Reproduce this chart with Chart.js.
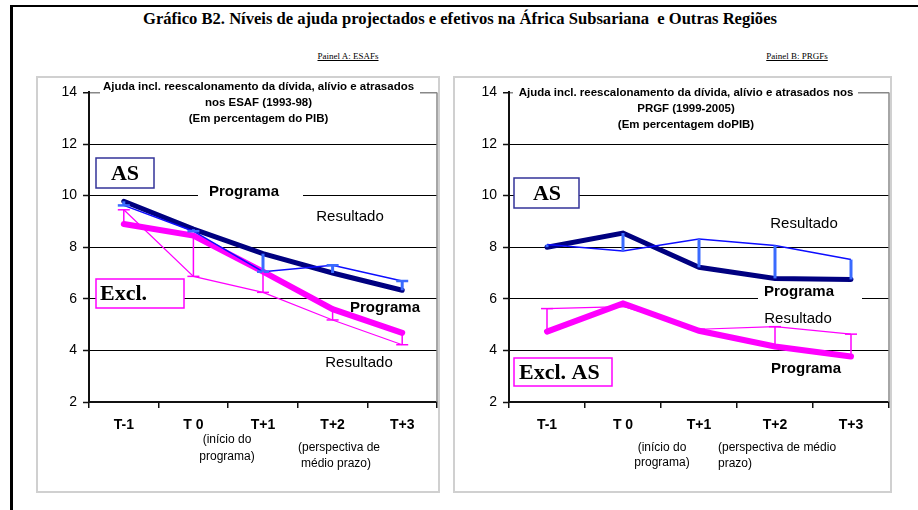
<!DOCTYPE html>
<html><head><meta charset="utf-8">
<script src="https://cdn.jsdelivr.net/npm/chart.js@4/dist/chart.umd.min.js"></script>
<style>
body{margin:0;background:#fff;width:918px;height:510px;overflow:hidden;position:relative;}
#frameTop{position:absolute;left:10px;top:5px;width:908px;height:2px;background:#000}
#frameLeft{position:absolute;left:10px;top:5px;width:3px;height:505px;background:#000}
#title{position:absolute;left:460px;top:10px;font:bold 16px "Liberation Serif",serif;color:#000;white-space:pre;transform-origin:0 0}
.plbl{position:absolute;top:51px;font:9px "Liberation Serif",serif;text-decoration:underline;transform:translateX(-50%);white-space:nowrap;color:#000}
.box{position:absolute;border:2px solid #d0d0d0;box-sizing:border-box}
canvas{position:absolute}
</style></head>
<body>
<div id="frameTop"></div><div id="frameLeft"></div>
<div id="title">Gráfico B2. Níveis de ajuda projectados e efetivos na África Subsariana  e Outras Regiões</div>
<div class="plbl" style="left:348px">Painel A: ESAFs</div>
<div class="plbl" style="left:797px">Painel B: PRGFs</div>
<div class="box" style="left:36px;top:76px;width:404px;height:417px"></div>
<div class="box" style="left:453px;top:76px;width:439px;height:417px"></div>
<canvas id="cA" style="left:38px;top:78px" width="400" height="412"></canvas>
<canvas id="cB" style="left:455px;top:78px" width="435" height="412"></canvas>
<script>
// ---- data ----
const categories = ['T-1', 'T 0', 'T+1', 'T+2', 'T+3'];
const yTicks = [2, 4, 6, 8, 10, 12, 14];
// Painel A: ESAFs (1993-98)
const asProgramaA   = [9.78, 8.70, 7.75, 7.00, 6.33];
const asResultadoA  = [9.62, 8.62, 7.05, 7.30, 6.69];
const exProgramaA   = [8.90, 8.45, 7.05, 5.60, 4.68];
const exResultadoA  = [9.45, 6.87, 6.25, 5.18, 4.22];
// Painel B: PRGFs (1999-2005)
const asProgramaB   = [8.00, 8.55, 7.22, 6.79, 6.75];
const asResultadoB  = [8.10, 7.85, 8.32, 8.07, 7.52];
const exProgramaB   = [4.73, 5.82, 4.76, 4.15, 3.76];
const exResultadoB  = [5.62, 5.70, 4.82, 4.92, 4.63];

// fit main title to its original width (143..777)
(function () {
  const t = document.getElementById('title');
  const w = t.getBoundingClientRect().width;
  const target = 634;
  t.style.left = (460 - target / 2) + 'px';
  t.style.transform = 'scaleX(' + (target / w).toFixed(4) + ')';
})();

const NAVY = '#000080', BLUE = '#0d0dff', LBLUE = '#3a6bff', MAG = '#ff00ff';
const SANS = '"Liberation Sans", Arial, sans-serif';
const SERIF = '"Liberation Serif", "Times New Roman", serif';

const barsPlugin = {
  id: 'bars',
  afterDatasetsDraw(chart) {
    const o = chart.options.plugins.bars;
    const xs = chart.scales.x, ys = chart.scales.y, ctx = chart.ctx;
    o.pairs.forEach(p => {
      ctx.save();
      ctx.strokeStyle = p.color;
      p.prog.forEach((v, i) => {
        const x = xs.getPixelForValue(i);
        const y1 = ys.getPixelForValue(v), y2 = ys.getPixelForValue(p.res[i]);
        ctx.lineWidth = p.width;
        ctx.beginPath(); ctx.moveTo(x, y1); ctx.lineTo(x, y2); ctx.stroke();
        if (p.cap) {
          ctx.lineWidth = p.capWidth;
          ctx.beginPath(); ctx.moveTo(x - p.cap, y2); ctx.lineTo(x + p.cap, y2); ctx.stroke();
        }
      });
      ctx.restore();
    });
  }
};

const annPlugin = {
  id: 'ann',
  afterDraw(chart) {
    const o = chart.options.plugins.ann;
    const ctx = chart.ctx, ca = chart.chartArea;
    const ox = o.offX, oy = o.offY;
    ctx.save();
    // plot border right (gray)
    ctx.strokeStyle = '#888'; ctx.lineWidth = 1.5;
    ctx.beginPath(); ctx.moveTo(ca.right, ca.top); ctx.lineTo(ca.right, ca.bottom); ctx.stroke();
    // inner title
    const t = o.title;
    ctx.fillStyle = '#fff';
    ctx.fillRect(t.x1 - ox, t.y0 - oy, t.x2 - t.x1, 10);
    ctx.font = 'bold 10px ' + SANS;
    const w10 = ctx.measureText(t.lines[0]).width;
    const fs = 10 * t.w / w10;
    ctx.font = 'bold ' + fs.toFixed(2) + 'px ' + SANS;
    ctx.fillStyle = '#000'; ctx.textAlign = 'center'; ctx.textBaseline = 'middle';
    t.lines.forEach((l, i) => ctx.fillText(l, t.cx - ox, t.ys[i] - oy));
    // boxes
    o.boxes.forEach(b => {
      ctx.strokeStyle = b.color; ctx.lineWidth = 1.5;
      ctx.fillStyle = '#fff';
      ctx.fillRect(b.x1 - ox, b.y1 - oy, b.x2 - b.x1, b.y2 - b.y1);
      ctx.strokeRect(b.x1 - ox, b.y1 - oy, b.x2 - b.x1, b.y2 - b.y1);
      ctx.fillStyle = '#000';
      ctx.font = 'bold 22px ' + SERIF;
      ctx.textAlign = b.align; ctx.textBaseline = 'middle';
      ctx.fillText(b.text, b.tx - ox, (b.y1 + b.y2) / 2 + 1 - oy);
    });
    // labels
    o.labels.forEach(l => {
      ctx.font = (l.bold ? 'bold ' : '') + '15px ' + SANS;
      ctx.textAlign = 'center'; ctx.textBaseline = 'middle';
      if (l.bg) {
        ctx.fillStyle = '#fff';
        ctx.fillRect(l.bg[0] - ox, l.bg[1] - oy, l.bg[2] - l.bg[0], l.bg[3] - l.bg[1]);
      }
      ctx.fillStyle = '#000';
      ctx.fillText(l.text, l.x - ox, l.y - oy);
    });
    // sub labels under x axis
    ctx.font = '12px ' + SANS; ctx.fillStyle = '#000'; ctx.textBaseline = 'middle';
    o.subs.forEach(s => {
      ctx.textAlign = s.align;
      ctx.fillText(s.text, s.x - ox, s.y - oy);
    });
    ctx.restore();
  }
};

function makeChart(id, offX, offY, yW, data4, bars, ann) {
  const [ap, ar, ep, er] = data4;
  return new Chart(document.getElementById(id), {
    type: 'line',
    data: {
      labels: categories,
      datasets: [
        { label: 'AS Programa', data: ap, borderColor: NAVY, borderWidth: 5, pointRadius: 0, tension: 0, borderCapStyle: 'round', order: 3 },
        { label: 'AS Resultado', data: ar, borderColor: BLUE, borderWidth: 1.5, pointRadius: 0, tension: 0, order: 1 },
        { label: 'Excl. Programa', data: ep, borderColor: MAG, borderWidth: 6, pointRadius: 0, tension: 0, borderCapStyle: 'round', order: 4 },
        { label: 'Excl. Resultado', data: er, borderColor: MAG, borderWidth: 1.2, pointRadius: 0, tension: 0, order: 2 }
      ]
    },
    options: {
      responsive: false, animation: false, events: [],
      layout: { padding: { top: 11, right: 1, left: 0, bottom: 0 } },
      scales: {
        x: {
          type: 'category', offset: true,
          afterFit: s => { s.height = 88; },
          border: { display: true, color: '#111', width: 2 },
          grid: { offset: true, drawOnChartArea: false, drawTicks: true, tickLength: 6, color: '#111', lineWidth: 1.5 },
          ticks: { font: { family: SANS, size: 14, weight: 'bold' }, color: '#000', padding: 9, maxRotation: 0 }
        },
        y: {
          min: 2, max: 14,
          afterFit: s => { s.width = yW; },
          afterBuildTicks: s => { s.ticks = yTicks.map(v => ({ value: v })); },
          border: { display: true, color: '#111', width: 2 },
          grid: { color: c => (c.tick && c.tick.value === 14 ? '#888' : '#000'), lineWidth: c => (c.tick && c.tick.value === 14 ? 1.5 : 1), tickLength: 6, tickColor: '#111', tickWidth: 1.5 },
          ticks: { font: { family: SANS, size: 14 }, color: '#000', padding: 6 }
        }
      },
      plugins: {
        legend: { display: false }, tooltip: { enabled: false }, title: { display: false },
        bars: { pairs: bars },
        ann: Object.assign({ offX: offX, offY: offY }, ann)
      }
    },
    plugins: [barsPlugin, annPlugin]
  });
}

makeChart('cA', 38, 78, 51,
  [asProgramaA, asResultadoA, exProgramaA, exResultadoA],
  [
    { prog: asProgramaA, res: asResultadoA, color: LBLUE, width: 3, cap: 6, capWidth: 2.5 },
    { prog: exProgramaA, res: exResultadoA, color: MAG, width: 1.5, cap: 6, capWidth: 1.5 }
  ],
  {
    title: { lines: ['Ajuda incl. reescalonamento da dívida, alívio e atrasados', 'nos ESAF (1993-98)', '(Em percentagem do PIB)'],
             cx: 258.5, ys: [87, 103, 118.5], w: 311, x1: 100, x2: 420, y0: 84 },
    boxes: [
      { text: 'AS', x1: 96, y1: 158, x2: 154, y2: 188, color: '#333399', tx: 125, align: 'center' },
      { text: 'Excl.', x1: 96, y1: 279, x2: 184, y2: 308, color: MAG, tx: 100, align: 'left' }
    ],
    labels: [
      { text: 'Programa', bold: true, x: 244, y: 192, bg: [198, 184, 303, 199] },
      { text: 'Resultado', bold: false, x: 350, y: 217 },
      { text: 'Programa', bold: true, x: 385, y: 308 },
      { text: 'Resultado', bold: false, x: 359, y: 363 }
    ],
    subs: [
      { text: '(início do', x: 227, y: 440, align: 'center' },
      { text: 'programa)', x: 227, y: 457, align: 'center' },
      { text: '(perspectiva de', x: 339, y: 448, align: 'center' },
      { text: 'médio prazo)', x: 336, y: 464, align: 'center' }
    ]
  });

makeChart('cB', 455, 78, 54,
  [asProgramaB, asResultadoB, exProgramaB, exResultadoB],
  [
    { prog: asProgramaB, res: asResultadoB, color: LBLUE, width: 3, cap: 0 },
    { prog: exProgramaB, res: exResultadoB, color: MAG, width: 1.5, cap: 6, capWidth: 1.5 }
  ],
  {
    title: { lines: ['Ajuda incl. reescalonamento da dívida, alívio e atrasados nos', 'PRGF (1999-2005)', '(Em percentagem doPIB)'],
             cx: 686, ys: [93, 109, 125], w: 335, x1: 513, x2: 858, y0: 84 },
    boxes: [
      { text: 'AS', x1: 514, y1: 178, x2: 579, y2: 208, color: '#333399', tx: 547, align: 'center' },
      { text: 'Excl. AS', x1: 514, y1: 358, x2: 612, y2: 386, color: MAG, tx: 519, align: 'left' }
    ],
    labels: [
      { text: 'Resultado', bold: false, x: 804, y: 224 },
      { text: 'Programa', bold: true, x: 799, y: 292, bg: [758, 284, 862, 301] },
      { text: 'Resultado', bold: false, x: 798, y: 319 },
      { text: 'Programa', bold: true, x: 806, y: 369 }
    ],
    subs: [
      { text: '(início do', x: 662, y: 448, align: 'center' },
      { text: 'programa)', x: 662, y: 463, align: 'center' },
      { text: '(perspectiva de médio', x: 718, y: 448, align: 'left' },
      { text: 'prazo)', x: 718, y: 464, align: 'left' }
    ]
  });
</script>
</body></html>
